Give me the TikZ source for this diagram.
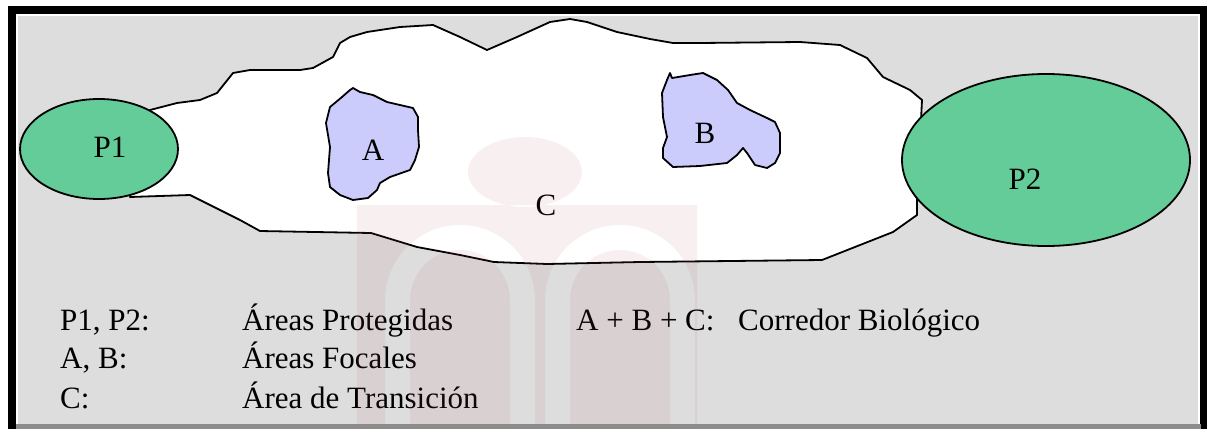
\documentclass[tikz,border=0pt]{standalone}
\usepackage{fontspec}
\setmainfont{Liberation Serif}
\definecolor{panel}{RGB}{221,221,221}
\definecolor{reserve}{RGB}{100,204,152}
\definecolor{focal}{RGB}{204,204,252}
\definecolor{seal}{RGB}{180,90,90}
\begin{document}
\begin{tikzpicture}[x=1pt,y=-1pt,
  outline/.style={draw=black, line width=1.8pt, line join=round},
  lbl/.style={font=\fontsize{31}{37}\selectfont, inner sep=0pt},
  legend/.style={lbl, anchor=base west}]
\useasboundingbox (0,0) rectangle (1207,429);
% frame
\fill[white] (0,0) rectangle (1207,429);
\fill[black] (8,6) rectangle (1207,429);
\fill[white] (16,14) rectangle (1200,424);
\fill[panel] (18,16) rectangle (1198,424);
\fill[black!45] (16,424) rectangle (1201,429);

% transition area C
\draw[outline, fill=white]
  (150,110) -- (177,103) -- (200,100) -- (217,93) -- (233,73) -- (250,70)
  -- (300,70) -- (313,68) -- (333,57) -- (340,43) -- (350,37) -- (367,32)
  -- (400,27) -- (433,25) -- (460,37) -- (487,50) -- (517,37) -- (550,22)
  -- (570,19) -- (587,22) -- (617,32) -- (650,39) -- (673,43) -- (700,43)
  -- (800,42) -- (840,45) -- (867,58) -- (883,77) -- (910,90) -- (922,100)
  -- (920,140) -- (917,197) -- (917,215) -- (893,232) -- (822,260)
  -- (640,262) -- (547,264) -- (494,262) -- (460,255) -- (417,247)
  -- (371,233) -- (260,231) -- (240,220) -- (190,195) -- (130,197) -- cycle;

% focal area A
\draw[outline, fill=focal]
  (350,90) -- (353,88) -- (360,92) -- (373,95) -- (387,102) -- (400,105)
  -- (413,108) -- (418,117) -- (418,130) -- (419,147) -- (415,160)
  -- (410,170) -- (390,177) -- (380,183) -- (377,190) -- (368,198)
  -- (353,200) -- (340,195) -- (330,187) -- (328,173) -- (330,147)
  -- (326,123) -- (330,107) -- (342,97) -- cycle;

% focal area B
\draw[outline, fill=focal]
  (670,73) -- (672,78) -- (690,75) -- (703,73) -- (717,80) -- (728,90)
  -- (737,103) -- (750,110) -- (767,118) -- (775,122) -- (780,133)
  -- (780,153) -- (775,163) -- (767,168) -- (755,165) -- (747,153)
  -- (743,148) -- (737,155) -- (727,163) -- (700,166) -- (673,167)
  -- (663,158) -- (663,148) -- (667,137) -- (663,117) -- (662,93)
  -- (667,80) -- cycle;

% protected areas
\draw[outline, fill=reserve] (99,149) ellipse [x radius=79, y radius=50];
\draw[outline, fill=reserve] (1046,160) ellipse [x radius=144, y radius=86];

% area labels
\node[lbl] (lp1) at (110,147) {P1};
\node[lbl] (lp2) at (1025,179) {P2};
\node[lbl] (la) at (373,150) {A};
\node[lbl] (lb) at (705,133) {B};
\node[lbl] (lc) at (546,205) {C};

% legend
\node[legend] (k1) at (60,330) {P1, P2:};
\node[legend] (v1) at (242,330) {Áreas Protegidas};
\node[legend] (k2) at (60,368) {A, B:};
\node[legend] (v2) at (242,368) {Áreas Focales};
\node[legend] (k3) at (60,408) {C:};
\node[legend] (v3) at (242,408) {Área de Transición};
\node[legend] (k4) at (576,330) {A + B + C:};
\node[legend] (v4) at (738,330) {Corredor Biológico};

% faint seal in the background
\fill[seal, opacity=0.09, even odd rule]
  (525,172) ellipse [x radius=57, y radius=35]
  (357,205) rectangle (697,424)
  (385,424) -- (385,300) arc[start angle=180, end angle=360, radius=75]
  -- (535,424) -- (510,424) -- (510,300) arc[start angle=360, end angle=180, radius=50]
  -- (410,424) -- cycle
  (545,424) -- (545,300) arc[start angle=180, end angle=360, radius=75]
  -- (695,424) -- (670,424) -- (670,300) arc[start angle=360, end angle=180, radius=50]
  -- (570,424) -- cycle;
\end{tikzpicture}
\end{document}
